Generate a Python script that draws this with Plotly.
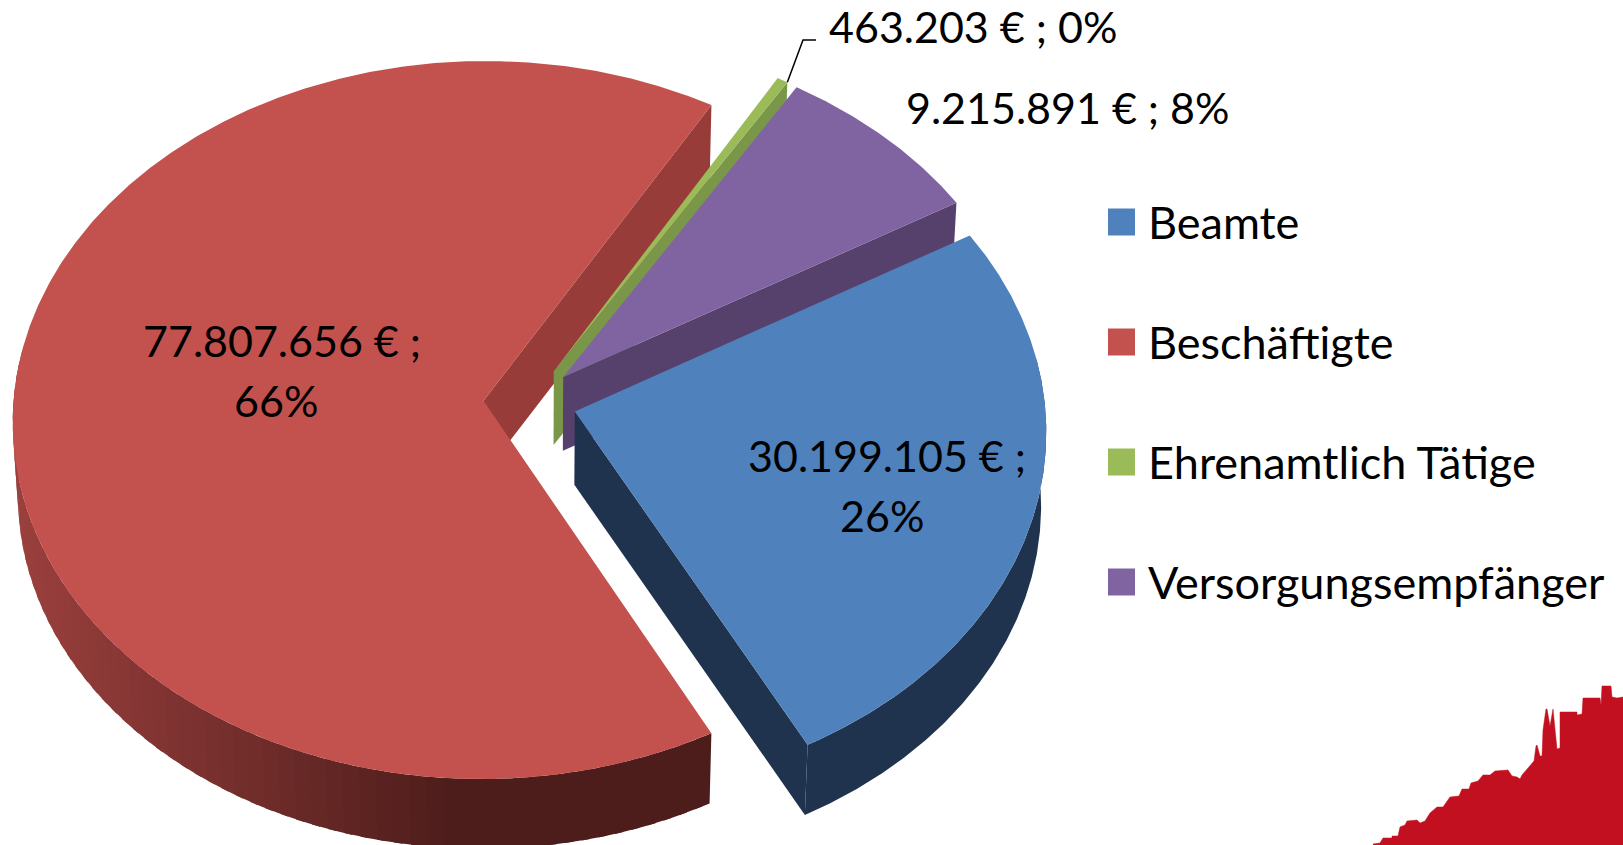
import numpy as np
import plotly.graph_objects as go

# ---- data ----
categories = ["Beamte", "Beschäftigte", "Ehrenamtlich Tätige", "Versorgungsempfänger"]
values = [30199105, 77807656, 463203, 9215891]

top_colors = ["#4f81bd", "#c3514e", "#9bbb59", "#8064a2"]
wall_colors = ["#1f334e", "#983c39", "#7a9649", "#55416b"]

# decorative skyline outline, bottom right corner (page pixels)
skyline_x = [1373, 1380, 1383, 1392, 1392, 1398, 1400, 1405, 1407, 1417, 1420, 1425, 1430, 1437, 1443,
             1450, 1459, 1462, 1469, 1471, 1478, 1483, 1490, 1495, 1508, 1512, 1517, 1520, 1522, 1529,
             1534, 1536, 1537, 1540, 1542, 1543, 1546, 1547, 1550, 1553, 1555, 1557, 1560, 1560, 1577,
             1577, 1582, 1583, 1600, 1601, 1602, 1611, 1612, 1617, 1623, 1623, 1373]
skyline_y = [844, 843, 838, 838, 836, 836, 827, 825, 821, 820, 823, 821, 813, 807, 807,
             797, 796, 789, 789, 783, 781, 775, 775, 771, 770, 776, 777, 779, 775, 767,
             761, 746, 745, 756, 756, 730, 709, 709, 726, 709, 728, 749, 748, 712, 712,
             715, 714, 698, 698, 705, 686, 686, 697, 698, 697, 845, 845]

# ---- projection settings (page pixels) ----
CX, CY = 530.0, 401.6
RX, RY = 470.0, 358.1
K = 0.0535
EXPLODE = 0.099
LOW_SCALE, LOW_DROP = 0.99, 73.5
START_DEG = 59.8
W, H = 1623, 845


def project(X, Y, low=False):
    w = 1 - K * Y
    s = LOW_SCALE if low else 1.0
    t = LOW_DROP if low else 0.0
    return CX + s * RX * X / w, CY + s * RY * Y / w + t


def fmt(v):
    return f"{v:,}".replace(",", ".") + " €"


def hexmix(a, b, f):
    ca = [int(a[i:i + 2], 16) for i in (1, 3, 5)]
    cb = [int(b[i:i + 2], 16) for i in (1, 3, 5)]
    return "rgb({},{},{})".format(*[round(p + (q - p) * f) for p, q in zip(ca, cb)])


fig = go.Figure()


def poly(xs, ys, color, name):
    fig.add_trace(go.Scatter(x=list(xs), y=list(ys), mode="lines", fill="toself", fillcolor=color,
                             line=dict(width=0), hoverinfo="skip", showlegend=False, name=name))


total = sum(values)
sweeps = [v / total * 360 for v in values]
starts = START_DEG + np.concatenate([[0], np.cumsum(sweeps)[:-1]])
slices = {}
for i, (cat, st, sw) in enumerate(zip(categories, starts, sweeps)):
    bis = np.radians(st + sw / 2)
    ox, oy = EXPLODE * np.sin(bis), -EXPLODE * np.cos(bis)
    th = np.radians(np.linspace(st, st + sw, max(4, int(sw * 3))))
    X, Y = ox + np.sin(th), oy - np.cos(th)
    slices[i] = (cat, ox, oy, X, Y)

# back to front: red, green, purple, blue
for i in [1, 2, 3, 0]:
    cat, ox, oy, X, Y = slices[i]
    tx, ty = project(X, Y)
    lx, ly = project(X, Y, low=True)
    ax, ay = project(ox, oy)
    bx, by = project(ox, oy, low=True)
    keep = np.where(Y > -0.12)[0]
    if i == 1:
        # shaded rim in overlapping bands, so that no seams show between them
        n = len(X)
        band = 6
        for j in list(range(keep[0], keep[-1], band))[::-1]:
            seg = np.arange(max(j - 3, 0), min(j + band + 1, n))
            f = np.clip((tx[min(j + band // 2, n - 1)] - 13) / (450 - 13), 0, 1)
            col = hexmix("#9b403d", "#4d1d1b", f)
            poly(np.concatenate([tx[seg], lx[seg][::-1]]), np.concatenate([ty[seg], ly[seg][::-1]]), col, cat)
    elif len(keep) > 1:
        poly(np.concatenate([tx[keep], lx[keep][::-1]]), np.concatenate([ty[keep], ly[keep][::-1]]),
             wall_colors[i], cat)
    # cut face along the slice's closing edge
    poly([ax, tx[-1], lx[-1], bx, ax], [ay, ty[-1], ly[-1], by, ay], wall_colors[i], cat)
    # top face
    poly(np.concatenate([[ax], tx, [ax]]), np.concatenate([[ay], ty, [ay]]), top_colors[i], cat)

# leader line of the smallest slice
gx, gy = project(slices[2][3][-1], slices[2][4][-1])
fig.add_trace(go.Scatter(x=[gx, 803, 816], y=[gy, 40, 40], mode="lines",
                         line=dict(color="#000000", width=1.5), hoverinfo="skip", showlegend=False))

# skyline
fig.add_trace(go.Scatter(x=skyline_x, y=skyline_y, mode="lines", fill="toself", fillcolor="#c21020",
                         line=dict(color="#c21020", width=0.5), hoverinfo="skip", showlegend=False))

# legend swatches
LEG_Y = [222, 342, 462, 582]
for cat, c, y in zip(categories, top_colors, LEG_Y):
    fig.add_trace(go.Scatter(x=[1121.5], y=[y], mode="markers", name=cat,
                             marker=dict(symbol="square", size=27, color=c, line=dict(width=0)),
                             hoverinfo="skip", showlegend=False))

FAMILY = "Lato, Carlito, Calibri, sans-serif"


def text(x, y, t, anchor="center", size=43):
    fig.add_annotation(x=x, y=y, text=t, showarrow=False, xanchor=anchor, yanchor="middle",
                       font=dict(family=FAMILY, size=size, color="#000000"), xref="x", yref="y")


for cat, y in zip(categories, LEG_Y):
    text(1146, y, cat, "left", 45)

pcts = [f"{round(v / total * 100)}%" for v in values]
text(887, 455, fmt(values[0]) + " ;")
text(882, 515, pcts[0])
text(282, 340, fmt(values[1]) + " ;")
text(276, 400, pcts[1])
text(973, 26, fmt(values[2]) + " ; " + pcts[2])
text(1068, 107, fmt(values[3]) + " ; " + pcts[3])

fig.update_layout(width=W, height=H, margin=dict(l=0, r=0, t=0, b=0),
                  paper_bgcolor="#ffffff", plot_bgcolor="#ffffff", showlegend=False,
                  xaxis=dict(range=[0, W], visible=False, fixedrange=True),
                  yaxis=dict(range=[H, 0], visible=False, fixedrange=True))

fig.write_html("out.html", config=dict(displayModeBar=False),
               post_script="document.body.style.margin='0';document.body.style.overflow='hidden';")
